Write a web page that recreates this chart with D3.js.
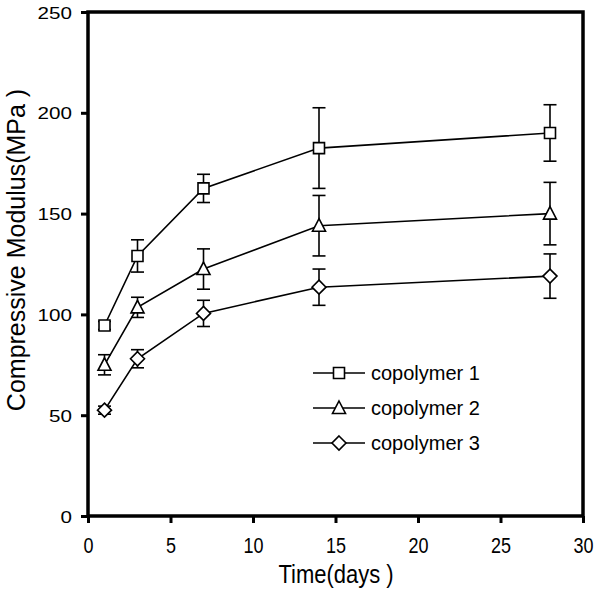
<!DOCTYPE html>
<html><head><meta charset="utf-8">
<script src="https://cdn.jsdelivr.net/npm/d3@7"></script>
<style>body{margin:0;background:#fff}text{font-family:"Liberation Sans",Arial,sans-serif;fill:#000}</style>
</head><body><svg id="c" width="600" height="590"></svg>
<script>
const days = [1, 3, 7, 14, 28];
const seriesNames = ["copolymer 1", "copolymer 2", "copolymer 3"];
const copolymer1 = [94.5, 129, 162.5, 182.5, 190];
const copolymer1Err = [2, 8, 7, 20, 14];
const copolymer2 = [75, 103.5, 122.5, 144, 150];
const copolymer2Err = [5, 5, 10, 15, 15.5];
const copolymer3 = [52.5, 78, 100.5, 113.5, 119];
const copolymer3Err = [2, 4.5, 6.5, 9, 11];
const xTicks = [0, 5, 10, 15, 20, 25, 30];
const yTicks = [0, 50, 100, 150, 200, 250];
const markers = ["square", "triangle", "diamond"];
const xTitle = "Time(days )";
const yTitle = "Compressive Modulus(MPa )";

const svg = d3.select("#c");
const L = 88, R = 583, T = 12, B = 516;
const x = d3.scaleLinear().domain([0, 30]).range([L, R]);
const y = d3.scaleLinear().domain([0, 250]).range([B, T]);

const series = [
  {name: seriesNames[0], v: copolymer1, e: copolymer1Err, m: markers[0]},
  {name: seriesNames[1], v: copolymer2, e: copolymer2Err, m: markers[1]},
  {name: seriesNames[2], v: copolymer3, e: copolymer3Err, m: markers[2]}
];

function marker(g, type, cx, cy) {
  let p;
  if (type === "square") p = `M${cx-5.5},${cy-5.5}h11v11h-11Z`;
  else if (type === "triangle") p = `M${cx},${cy-7}L${cx+6.5},${cy+5.5}L${cx-6.5},${cy+5.5}Z`;
  else p = `M${cx},${cy-7}L${cx+7},${cy}L${cx},${cy+7}L${cx-7},${cy}Z`;
  g.append("path").attr("d", p).attr("fill", "#fff").attr("stroke", "#000").attr("stroke-width", 1.6);
}

const line = d3.line().x(d => x(d[0])).y(d => y(d[1]));
series.forEach(s => {
  const g = svg.append("g");
  const pts = days.map((d, i) => [d, s.v[i]]);
  g.append("path").attr("d", line(pts)).attr("fill", "none").attr("stroke", "#000").attr("stroke-width", 1.6);
  days.forEach((d, i) => {
    const cx = x(d), y1 = y(s.v[i] + s.e[i]), y2 = y(s.v[i] - s.e[i]);
    g.append("line").attr("x1", cx).attr("x2", cx).attr("y1", y1).attr("y2", y2).attr("stroke", "#000").attr("stroke-width", 1.6);
    [y1, y2].forEach(yy => g.append("line").attr("x1", cx - 6.5).attr("x2", cx + 6.5).attr("y1", yy).attr("y2", yy)
      .attr("stroke", "#000").attr("stroke-width", 1.6));
  });
  days.forEach((d, i) => marker(g, s.m, x(d), y(s.v[i])));
});

const xa = svg.append("g").attr("transform", `translate(0,${B})`)
  .call(d3.axisBottom(x).tickValues(xTicks).tickSize(7).tickSizeOuter(0));
const ya = svg.append("g").attr("transform", `translate(${L},0)`)
  .call(d3.axisLeft(y).tickValues(yTicks).tickSize(7).tickSizeOuter(0));
[xa, ya].forEach(a => {
  a.select(".domain").remove();
  a.selectAll("line").attr("stroke", "#000").attr("stroke-width", 3);
  a.selectAll("text").attr("font-family", null).attr("font-size", null);
});
xa.selectAll(".tick text").attr("y", null).attr("dy", null)
  .attr("transform", "translate(0,37) scale(1,1.2)").style("font-size", "18px");
ya.selectAll(".tick text").attr("x", null).attr("dy", null)
  .attr("transform", "translate(-16,6) scale(1.25,1)").style("font-size", "16.5px");

svg.append("rect").attr("x", L).attr("y", T).attr("width", R - L).attr("height", B - T)
  .attr("fill", "none").attr("stroke", "#000").attr("stroke-width", 3.5);

svg.append("text").attr("transform", "translate(336,583) scale(1,1.15)").attr("text-anchor", "middle")
  .style("font-size", "22px").text(xTitle);
svg.append("text").attr("transform", "translate(25,250) rotate(-90)").attr("text-anchor", "middle")
  .style("font-size", "25px").text(yTitle);

const lg = svg.append("g");
series.forEach((s, i) => {
  const ly = 373 + i * 35;
  lg.append("line").attr("x1", 313).attr("x2", 365).attr("y1", ly).attr("y2", ly).attr("stroke", "#000").attr("stroke-width", 1.6);
  marker(lg, s.m, 339, ly);
  lg.append("text").attr("x", 371).attr("y", ly + 7).style("font-size", "20px").text(s.name);
});
</script></body></html>
